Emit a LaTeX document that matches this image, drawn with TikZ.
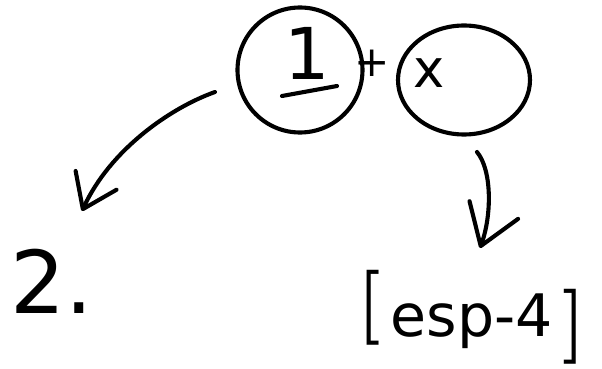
\documentclass[tikz,border=0pt]{standalone}
\usepackage{fontspec}
\newfontfamily\handfont{DejaVu Sans}
\usetikzlibrary{arrows.meta,shapes.geometric}
\begin{document}
\begin{tikzpicture}[x=0.03cm,y=-0.03cm,
  line cap=round, line join=round,
  ink/.style={draw=black, line width=3.5pt},
  bubble/.style={ellipse, draw=black, line width=3.5pt, inner sep=0pt},
  hand/.style={inner sep=0pt, text=black},
  barbleft/.style={ink, -{Straight Barb[round, length=0.95cm, width=1.35cm]}},
  barbright/.style={ink, -{Straight Barb[round, length=1.15cm, width=1.55cm]}}]
\useasboundingbox (0,0) rectangle (602,369);
% circles
\node[bubble, minimum width=3.75cm, minimum height=3.75cm] (c1) at (300,70) {};
\node[bubble, minimum width=3.96cm, minimum height=3.27cm] (c2) at (464,80) {};
% contents
\node[hand, anchor=base, font=\handfont\fontsize{61}{61}\selectfont] (one) at (307,80) {1};
\draw[ink] ([xshift=-0.75cm,yshift=-0.48cm]one.base) -- ([xshift=0.9cm,yshift=-0.18cm]one.base);
\node[hand, font=\handfont\fontsize{36}{36}\selectfont] (plus) at (372,63) {+};
\node[hand, font=\handfont\fontsize{45}{45}\selectfont] (ex) at (429,73) {x};
% targets
\node[hand, anchor=base west, font=\handfont\fontsize{74}{74}\selectfont] (two) at (10,314) {2.};
\node[hand, anchor=base, font=\handfont\fontsize{50}{50}\selectfont] (esp) at (472,337)
  {\raisebox{0.3cm}{\normalfont\bfseries\fontsize{64}{64}\selectfont[}\,esp-4\,\raisebox{-0.25cm}{\normalfont\bfseries\fontsize{64}{64}\selectfont]}};
% connectors
\coordinate (s1) at (215,92);
\coordinate (t1) at (82,211);
\coordinate (s2) at (477,152);
\coordinate (t2) at (480,248);
\draw[barbleft] (s1) .. controls (170,108) and (110,150) .. (t1);
\draw[barbright] (s2) .. controls (492,170) and (492,215) .. (t2);
\end{tikzpicture}
\end{document}
